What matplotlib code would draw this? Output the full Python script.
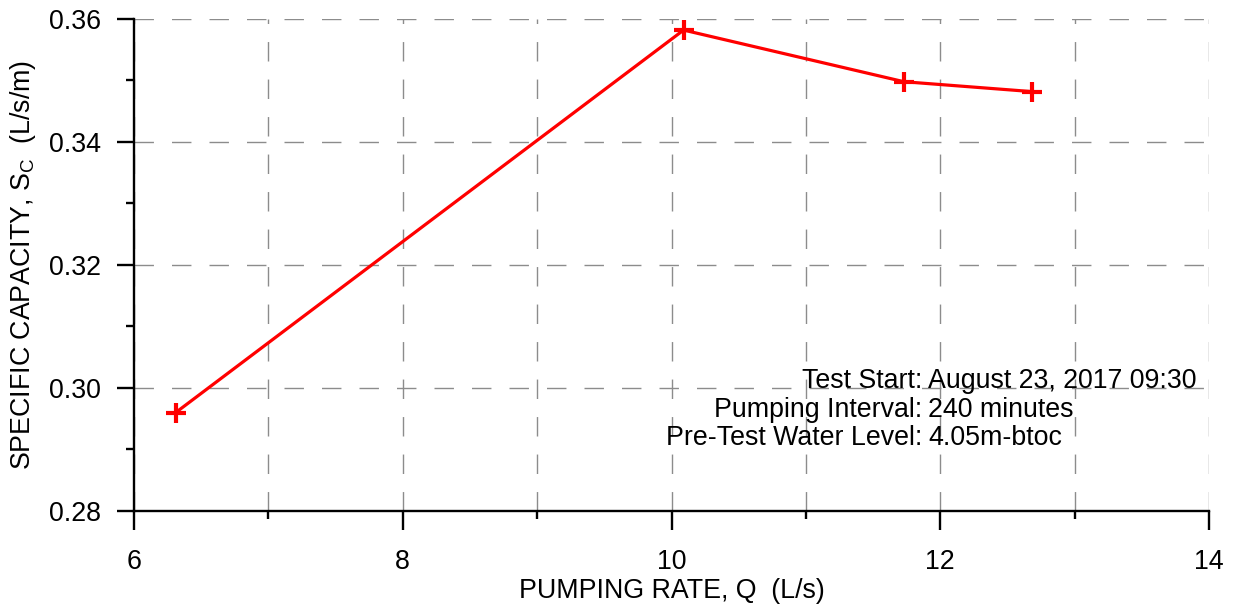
import matplotlib
matplotlib.use("Agg")
import matplotlib.pyplot as plt
from matplotlib.ticker import MultipleLocator, FormatStrFormatter

plt.rcParams['font.family'] = ['Liberation Sans', 'DejaVu Sans']
plt.rcParams['mathtext.fontset'] = 'custom'
plt.rcParams['mathtext.rm'] = 'Liberation Sans'
plt.rcParams['mathtext.it'] = 'Liberation Sans'
plt.rcParams['lines.scale_dashes'] = False

# Data
pumping_rate = [6.31, 10.09, 11.73, 12.68]
specific_capacity = [0.2960, 0.3582, 0.3498, 0.3482]
info_labels = ["Test Start:", "Pumping Interval:", "Pre-Test Water Level:"]
info_values = ["August 23, 2017 09:30", "240 minutes", "4.05m-btoc"]

FS = 19.3
W, H = 1233, 610
fig = plt.figure(figsize=(W / 100, H / 100), dpi=100)
ax = fig.add_axes([134 / W, 1 - 511 / H, (1209 - 134) / W, (511 - 19) / H])

ax.plot(pumping_rate, specific_capacity, color='#ff0000', lw=2.3,
        marker='+', markersize=14, markeredgewidth=3.0, zorder=5, clip_on=False)

ax.set_xlim(6, 14)
ax.set_ylim(0.28, 0.36)
ax.xaxis.set_major_locator(MultipleLocator(2))
ax.xaxis.set_minor_locator(MultipleLocator(1))
ax.yaxis.set_major_locator(MultipleLocator(0.02))
ax.yaxis.set_minor_locator(MultipleLocator(0.01))
ax.yaxis.set_major_formatter(FormatStrFormatter('%.2f'))

for s in ['top', 'right']:
    ax.spines[s].set_visible(False)
for s in ['left', 'bottom']:
    ax.spines[s].set_linewidth(1.7)

ax.tick_params(which='major', width=1.7, direction='out', labelsize=FS, color='black')
ax.tick_params(which='minor', length=6, width=1.7, direction='out', color='black')
ax.tick_params(axis='y', which='major', length=12, pad=12)
ax.tick_params(axis='x', which='major', length=13.5, pad=14)

grid_kw = dict(color='#8c8c8c', lw=1.0, ls=(0, (14, 13)))
ax.grid(True, axis='x', which='both', **grid_kw)
ax.grid(True, axis='y', which='major', **grid_kw)
ax.set_axisbelow(True)

ax.set_xlabel("PUMPING RATE, Q  (L/s)", fontsize=FS, labelpad=2)
ax.set_ylabel(r"SPECIFIC CAPACITY, S$_{\mathrm{C}}$  (L/s/m)", fontsize=FS, labelpad=8)

ys = [381, 410, 438]
for lab, val, y in zip(info_labels, info_values, ys):
    fig.text(922 / W, 1 - y / H, lab, ha='right', va='center', fontsize=FS)
    fig.text(928 / W, 1 - y / H, val, ha='left', va='center', fontsize=FS)

fig.savefig("out.png", dpi=100)
